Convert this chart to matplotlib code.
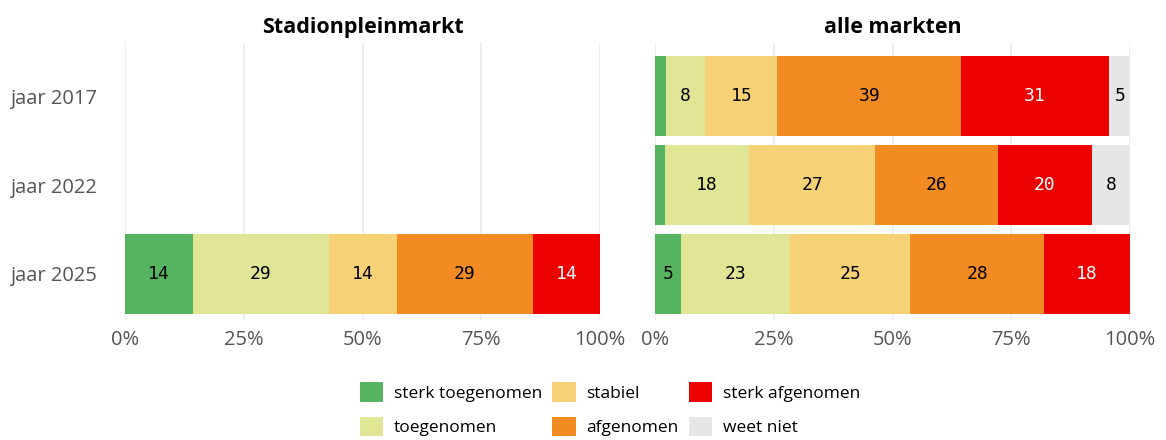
import numpy as np
import matplotlib
matplotlib.use('Agg')
import matplotlib.pyplot as plt
from matplotlib.patches import Patch

plt.rcParams['font.family'] = ['Open Sans', 'DejaVu Sans']

# categorieen en kleuren
categories = ['sterk toegenomen', 'toegenomen', 'stabiel',
              'afgenomen', 'sterk afgenomen', 'weet niet']
colors = ['#56b461', '#e1e596', '#f6d176', '#f18b22', '#ec0000', '#e6e6e6']
label_colors = ['black', 'black', 'black', 'black', 'white', 'black']

years = ['jaar 2017', 'jaar 2022', 'jaar 2025']

# percentages per jaar (None = geen gegevens)
stadion_2017 = None
stadion_2022 = None
stadion_2025 = [14.3, 28.6, 14.3, 28.6, 14.3, 0]

alle_2017 = [2.3, 8.3, 15.1, 38.8, 31.0, 4.6]
alle_2022 = [2.1, 17.7, 26.6, 25.7, 19.8, 8.2]
alle_2025 = [5.4, 23.0, 25.3, 28.2, 18.1, 0]

panels = [('Stadionpleinmarkt', [stadion_2017, stadion_2022, stadion_2025]),
          ('alle markten', [alle_2017, alle_2022, alle_2025])]

fig = plt.figure(figsize=(11.66, 4.4), dpi=100)
ax_pos = [[0.1072, 0.2727, 0.4074, 0.6295],
          [0.5618, 0.2727, 0.4074, 0.6295]]

for p, (title, rows) in enumerate(panels):
    ax = fig.add_axes(ax_pos[p])
    for i, vals in enumerate(rows):
        if vals is None:
            continue
        left = 0
        for c, v in enumerate(vals):
            if v <= 0:
                continue
            ax.barh(i, v, left=left, height=0.9, color=colors[c], zorder=2)
            if v >= 3:
                ax.text(left + v/2, i, '%d' % round(v), ha='center', va='center',
                        fontsize=13, fontfamily=['DejaVu Sans Mono'],
                        color=label_colors[c], zorder=3)
            left += v

    ax.set_xlim(0, 100)
    ax.set_ylim(2.52, -0.6)
    ax.set_xticks([0, 25, 50, 75, 100])
    ax.set_xticklabels(['0%', '25%', '50%', '75%', '100%'])
    ax.set_yticks(range(len(years)))
    if p == 0:
        ax.set_yticklabels(years)
    else:
        ax.set_yticklabels([])
    ax.tick_params(length=0, labelsize=14.5, labelcolor='#555555')
    ax.tick_params(axis='y', pad=20)
    ax.tick_params(axis='x', pad=7)
    ax.grid(axis='x', color='#ebebeb', linewidth=1.2, zorder=0)
    ax.set_axisbelow(True)
    for s in ax.spines.values():
        s.set_visible(False)
    ax.set_title(title, fontsize=15.5, fontweight='bold', pad=7)

handles = [Patch(facecolor=colors[c], edgecolor='none') for c in range(len(categories))]
fig.legend(handles, categories, ncol=3, loc='center', bbox_to_anchor=(0.523, 0.07),
           frameon=False, fontsize=12.5, handlelength=1.35, handleheight=1.35,
           handletextpad=0.6, columnspacing=0.6, labelspacing=0.85)

plt.savefig('out.png', dpi=100)
